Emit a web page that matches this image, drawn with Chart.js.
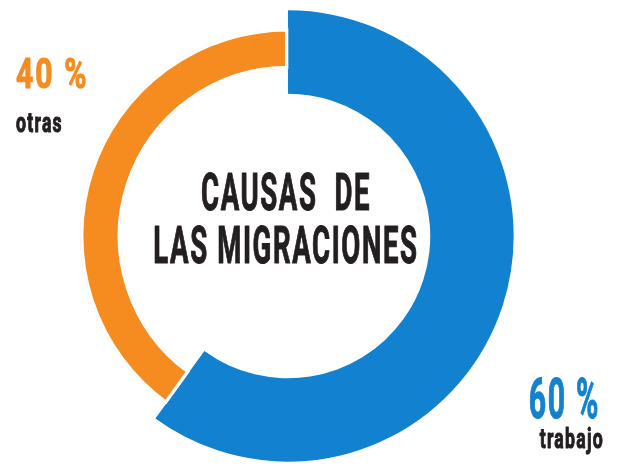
<!DOCTYPE html>
<html>
<head>
<meta charset="utf-8">
<script src="https://cdn.jsdelivr.net/npm/chart.js@4.4.1/dist/chart.umd.min.js"></script>
<style>
    html, body { margin: 0; padding: 0; background: #ffffff; }
    #wrap { width: 619px; height: 466px; }
</style>
</head>
<body>
<div id="wrap"><canvas id="chart" width="619" height="466"></canvas></div>
<script>
(function () {
    const categories = ['trabajo', 'otras'];
    const values = [60, 40];
    const colors = ['#1282d0', '#f68b1f'];
    const centerTitle = ['CAUSAS  DE', 'LAS MIGRACIONES'];

    const TEXT_DARK = '#231f20';
    const FONT = 'Roboto, "Liberation Sans", sans-serif';

    // condensed bold look: squeeze horizontally, thicken with a thin stroke
    function drawCondensed(ctx, text, x, y, size, color, align, sx, spacing) {
        ctx.save();
        ctx.translate(x, y);
        ctx.scale(sx, 1);
        ctx.font = 'bold ' + size + 'px ' + FONT;
        ctx.letterSpacing = (spacing || 0) + 'px';
        ctx.fillStyle = color;
        ctx.strokeStyle = color;
        ctx.lineWidth = 1.1;
        ctx.lineJoin = 'round';
        ctx.textAlign = align;
        ctx.textBaseline = 'alphabetic';
        ctx.fillText(text, 0, 0);
        ctx.strokeText(text, 0, 0);
        ctx.restore();
    }

    // The "otras" slice sits on a thinner, smaller ring than "trabajo".
    const ringSizes = {
        id: 'ringSizes',
        afterDatasetUpdate: function (chart) {
            const meta = chart.getDatasetMeta(0);
            const outer = meta.data[0].outerRadius;
            meta.data[1].outerRadius = outer * 0.920;
            meta.data[1].innerRadius = outer * 0.739;
        },
    };

    const labelsPlugin = {
        id: 'labelsPlugin',
        afterDraw: function (chart) {
            const ctx = chart.ctx;
            const arc = chart.getDatasetMeta(0).data[0];
            const cx = arc.x;
            const cy = arc.y;

            // centre title
            drawCondensed(ctx, centerTitle[0], cx - 2, cy - 26, 52, TEXT_DARK, 'center', 0.53, 3);
            drawCondensed(ctx, centerTitle[1], cx - 2, cy + 27, 52, TEXT_DARK, 'center', 0.53, 3);

            // otras (top left)
            drawCondensed(ctx, values[1] + ' %', 16, 88, 43, colors[1], 'left', 0.7, 3);
            drawCondensed(ctx, categories[1], 16, 132, 28, TEXT_DARK, 'left', 0.63, 2);

            // trabajo (bottom right)
            drawCondensed(ctx, values[0] + ' %', 600, 418, 55, colors[0], 'right', 0.55, 3);
            drawCondensed(ctx, categories[0], 604, 448, 28, TEXT_DARK, 'right', 0.63, 2);
        },
    };

    const ctx = document.getElementById('chart').getContext('2d');
    new Chart(ctx, {
        type: 'doughnut',
        data: {
            labels: categories,
            datasets: [
                {
                    data: values,
                    backgroundColor: colors,
                    borderColor: '#ffffff',
                    borderWidth: [0, 3],
                    borderAlign: 'inner',
                    cutout: '62.8%',
                },
            ],
        },
        options: {
            responsive: false,
            animation: false,
            layout: { padding: { left: 62, right: 105, top: 10, bottom: 4 } },
            plugins: {
                legend: { display: false },
                tooltip: { enabled: false },
            },
        },
        plugins: [ringSizes, labelsPlugin],
    });
})();
</script>
</body>
</html>
